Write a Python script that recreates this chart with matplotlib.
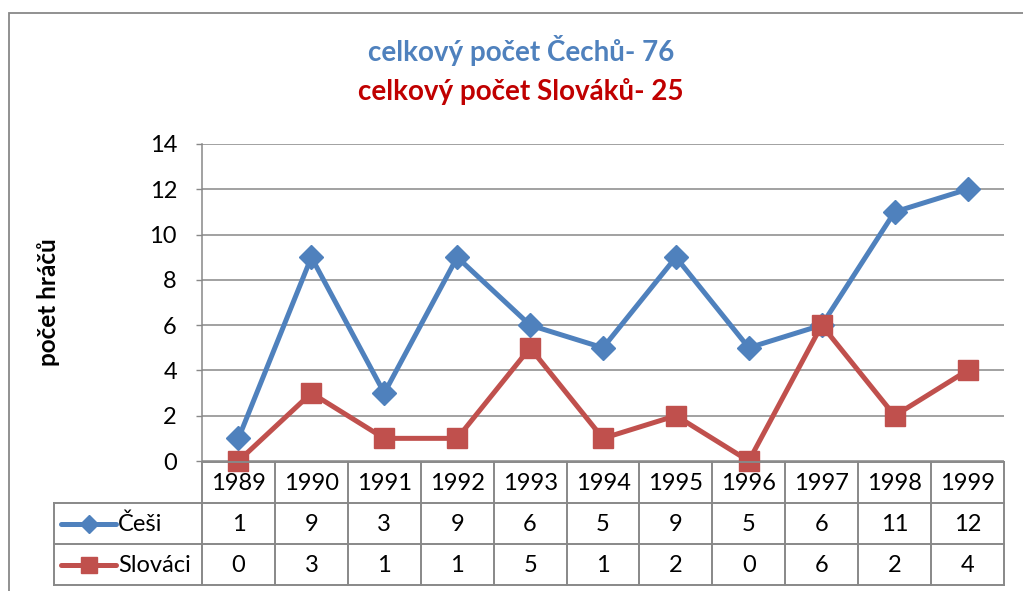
import matplotlib
matplotlib.use("Agg")
import matplotlib.pyplot as plt
from matplotlib.patches import Rectangle

years = ["1989", "1990", "1991", "1992", "1993", "1994", "1995", "1996", "1997", "1998", "1999"]
cesi = [1, 9, 3, 9, 6, 5, 9, 5, 6, 11, 12]
slovaci = [0, 3, 1, 1, 5, 1, 2, 0, 6, 2, 4]
series_names = ["Češi", "Slováci"]
title1 = "celkový počet Čechů- 76"
title2 = "celkový počet Slováků- 25"
ylabel = "počet hráčů"
yticks = [0, 2, 4, 6, 8, 10, 12, 14]

BLUE = "#4F81BD"
RED = "#C0504D"
GRID = "#888888"
FONT = "Lato"
FS = 17

W, H = 1023, 591
fig = plt.figure(figsize=(W / 100, H / 100), dpi=100)

def fx(px):
    return px / W

def fy(py):
    return 1 - py / H

# outer chart border
fig.patches.append(Rectangle((fx(9), fy(700)), fx(1030) - fx(9), fy(13) - fy(700),
                             transform=fig.transFigure, fill=False, edgecolor="#888888", lw=1.3))

L, R, T, B = 202, 1004, 144, 461
ax = fig.add_axes([fx(L), fy(B), fx(R) - fx(L), fy(T) - fy(B)])
x = list(range(len(years)))
ax.plot(x, cesi, color=BLUE, lw=3.6, marker="D", ms=12, mec=BLUE, mfc=BLUE, zorder=4, clip_on=False)
ax.plot(x, slovaci, color=RED, lw=3.6, marker="s", ms=14.5, mec=RED, mfc=RED, zorder=5, clip_on=False)
ax.set_xlim(-0.5, len(years) - 0.5)
ax.set_ylim(0, 14)
ax.set_yticks(yticks)
ax.set_yticklabels([str(v) for v in yticks], fontfamily=FONT, fontsize=FS)
ax.tick_params(axis="y", length=4, width=1, color=GRID, pad=14)
ax.set_xticks([])
ax.yaxis.grid(True, color=GRID, lw=1.1)
ax.set_axisbelow(True)
for s in ["top", "right", "bottom"]:
    ax.spines[s].set_visible(False)
ax.spines["left"].set_color(GRID)
ax.spines["left"].set_linewidth(1.1)
ax.set_ylabel(ylabel, fontfamily=FONT, fontweight="bold", fontsize=17.5, labelpad=0)
ax.yaxis.set_label_coords(fx(60 - L) / (fx(R) - fx(L)), 0.5)

# titles
fig.text(fx(521), fy(51), title1, color=BLUE, fontfamily=FONT, fontweight="bold",
         fontsize=20, ha="center", va="center")
fig.text(fx(521), fy(92), title2, color="#C00000", fontfamily=FONT, fontweight="bold",
         fontsize=20, ha="center", va="center")

# data table
TT, TB = 462, 585
tax = fig.add_axes([fx(L), fy(TB), fx(R) - fx(L), fy(TT) - fy(TB)], sharex=ax)
tax.set_ylim(3, 0)
tax.axis("off")
unit = (R - L) / len(years)
leg_left = -0.5 - (L - 54) / unit
lc = GRID
lw = 1.4
n = len(years)
tax.plot([-0.5, n - 0.5], [0, 0], color=lc, lw=lw, clip_on=False)
for yy in [1, 2, 3]:
    tax.plot([leg_left, n - 0.5], [yy, yy], color=lc, lw=lw, clip_on=False)
for i in range(n + 1):
    tax.plot([i - 0.5, i - 0.5], [0, 3], color=lc, lw=lw, clip_on=False)
tax.plot([leg_left, leg_left], [1, 3], color=lc, lw=lw, clip_on=False)

for i, yr in enumerate(years):
    tax.text(i, 0.52, yr, ha="center", va="center", fontfamily=FONT, fontsize=FS)
    tax.text(i, 1.52, str(cesi[i]), ha="center", va="center", fontfamily=FONT, fontsize=FS)
    tax.text(i, 2.52, str(slovaci[i]), ha="center", va="center", fontfamily=FONT, fontsize=FS)

# legend keys
k0 = leg_left + (61 - 54) / unit
k1 = leg_left + (116 - 54) / unit
for row, (name, col, mk, ms) in enumerate([(series_names[0], BLUE, "D", 9.5), (series_names[1], RED, "s", 11.5)]):
    yy = row + 1.5
    tax.plot([k0, k1], [yy, yy], color=col, lw=3.6, clip_on=False, solid_capstyle="round")
    tax.plot([(k0 + k1) / 2], [yy], marker=mk, ms=ms, color=col, clip_on=False)
    tax.text(k1 + 2 / unit, yy + 0.02, name, ha="left", va="center", fontfamily=FONT, fontsize=FS)

fig.savefig("out.png", dpi=100)
